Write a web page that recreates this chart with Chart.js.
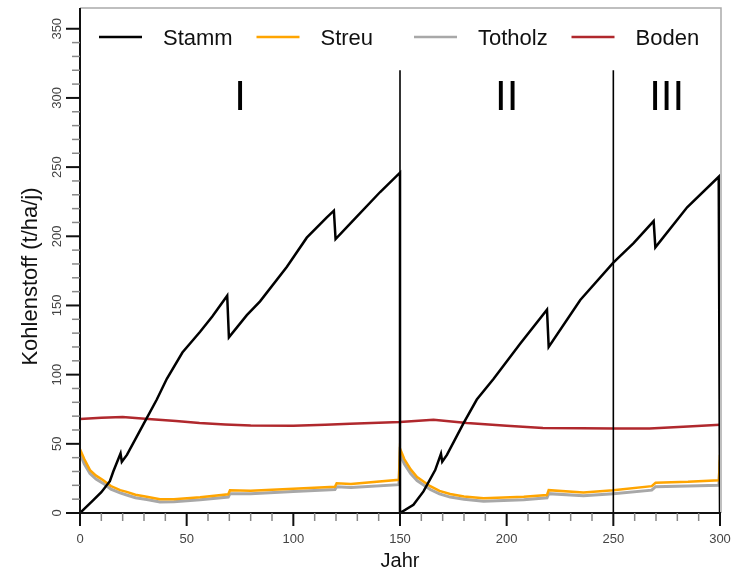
<!DOCTYPE html>
<html>
<head>
<meta charset="utf-8">
<script src="https://cdn.jsdelivr.net/npm/chart.js@4.4.1/dist/chart.umd.min.js"></script>
<style>
  html, body { margin: 0; padding: 0; background: #fff; }
  #wrap { width: 741px; height: 573px; position: relative; }
</style>
</head>
<body>
<div id="wrap"><canvas id="chart"></canvas></div>
<script>
// Kohlenstoffvorrat über 300 Jahre, drei Phasen (I, II, III).
// Werte; doppelte Jahre = senkrechter Sprung (Ernte).

const stammYears = [0, 6, 10, 14, 15.6, 19, 19.6, 22, 29.7, 36, 40.7, 48, 56.3, 62, 69, 69.8, 78.2, 84.4, 97, 106.3, 115.7, 119, 119.8, 128.2, 140.7, 150,
  150, 156.3, 161, 166.5, 169.2, 169.8, 172, 179.8, 186, 193.9, 206.4, 218.9, 219.7, 234.5, 250, 259.5, 268.9, 269.7, 284.6, 299.4, 300];
const stammValues = [0, 9, 15, 23, 30, 43, 37, 42, 64, 82, 97, 116, 131, 142, 157, 127, 143, 153, 178, 199, 213.6, 218.5, 198, 211.7, 232, 246,
  0, 6, 15.6, 31, 42.8, 37, 42, 65, 82, 97, 122.5, 147, 120, 154, 181, 195, 211, 192, 221, 243, 0];

const streuYears = [0, 2, 4.7, 7.5, 10.9, 14.5, 18.8, 21.9, 26, 31.3, 37.5, 44, 56.3, 69.5, 70.3, 80, 100, 119.5, 120.3, 127, 149.5,
  150, 152, 155, 158, 164.2, 168.5, 173.5, 180, 189.2, 208, 218.9, 219.7, 236, 250, 268, 269.8, 285, 299.5, 300];
const streuValues = [46, 39, 31, 27, 23.7, 19.5, 16.5, 15.3, 13.2, 11.7, 10, 10, 11.3, 13.5, 16.5, 16, 17.5, 19, 21.5, 21, 24,
  46.5, 39, 31.5, 26, 19.4, 16, 13.7, 12, 10.6, 11.7, 13, 16.5, 14.9, 16.5, 19.4, 21.8, 22.5, 23.7, 42];

const totholzYears = streuYears;
const totholzValues = [43, 35.5, 28.5, 24.5, 21.4, 17.3, 14.5, 13, 11, 9.7, 8, 8.2, 9.5, 11.5, 14, 14, 15.5, 17, 19, 18.5, 20.5,
  43, 35.5, 28.5, 23.5, 17, 13.8, 11.5, 10, 8.5, 9.5, 11, 14, 12.5, 14, 16.5, 19, 19.5, 20, 38];

const bodenYears = [0, 10, 20, 32, 45, 56, 68, 80, 100, 115, 126.6, 150, 165.7, 181.4, 200, 217, 235, 250, 267, 285, 300];
const bodenValues = [68, 68.8, 69.3, 68, 66.5, 65, 64, 63.3, 63, 63.7, 64.5, 65.7, 67.4, 65, 63, 61.4, 61.2, 61, 61, 62.5, 63.8];

const seriesLabels = ["Stamm", "Streu", "Totholz", "Boden"];
const seriesColors = ["#000000", "#FFA500", "#A8A8A8", "#B0282D"];
const seriesWidths = [2.5, 2.5, 3, 2.5];

const phaseBounds = [0, 150, 250, 300];
const phaseNames = ["I", "II", "III"];
const phaseLabelValue = 300;
const markerTop = 320;

const yTitle = "Kohlenstoff (t/ha/j)";
const FONT = "'Liberation Sans', Arial, sans-serif";

const pts = (xs, ys) => xs.map((x, i) => ({ x, y: ys[i] }));
const seriesData = [
  pts(stammYears, stammValues),
  pts(streuYears, streuValues),
  pts(totholzYears, totholzValues),
  pts(bodenYears, bodenValues),
];

// Achsen, Haupt-/Nebenstriche, Phasenlinien, römische Ziffern und Legende
const decor = {
  id: "decor",
  afterDatasetsDraw(chart) {
    const { ctx, chartArea: a, scales: { x, y } } = chart;
    ctx.save();

    // Phasengrenzen
    ctx.strokeStyle = "#000";
    ctx.lineWidth = 1.6;
    phaseBounds.slice(1, -1).forEach((b) => {
      const px = x.getPixelForValue(b);
      ctx.beginPath();
      ctx.moveTo(px, y.getPixelForValue(0));
      ctx.lineTo(px, y.getPixelForValue(markerTop));
      ctx.stroke();
    });

    // Rahmen oben/rechts grau
    ctx.strokeStyle = "#aaaaaa";
    ctx.lineWidth = 1.5;
    ctx.beginPath();
    ctx.moveTo(a.left, a.top);
    ctx.lineTo(a.right + 1, a.top);
    ctx.lineTo(a.right + 1, a.bottom);
    ctx.stroke();

    // Achsen schwarz
    ctx.strokeStyle = "#111";
    ctx.lineWidth = 2;
    ctx.beginPath();
    ctx.moveTo(a.left, a.top);
    ctx.lineTo(a.left, a.bottom);
    ctx.lineTo(a.right + 1, a.bottom);
    ctx.stroke();

    // Striche
    y.ticks.forEach((t) => {
      if (t.value > 350) return;
      const major = t.value % 50 === 0;
      const py = y.getPixelForValue(t.value);
      ctx.strokeStyle = major ? "#111" : "#888";
      ctx.lineWidth = major ? 2 : 1.5;
      ctx.beginPath();
      ctx.moveTo(a.left - (major ? 14 : 8), py);
      ctx.lineTo(a.left, py);
      ctx.stroke();
    });
    x.ticks.forEach((t) => {
      const major = t.value % 50 === 0;
      const px = x.getPixelForValue(t.value);
      ctx.strokeStyle = major ? "#111" : "#888";
      ctx.lineWidth = major ? 2 : 1.5;
      ctx.beginPath();
      ctx.moveTo(px, a.bottom);
      ctx.lineTo(px, a.bottom + (major ? 13 : 8));
      ctx.stroke();
    });

    // y-Beschriftung senkrecht
    ctx.fillStyle = "#444";
    ctx.font = "13px " + FONT;
    ctx.textAlign = "center";
    ctx.textBaseline = "middle";
    y.ticks.forEach((t) => {
      if (t.value % 50 !== 0 || t.value > 350) return;
      ctx.save();
      ctx.translate(a.left - 23, y.getPixelForValue(t.value));
      ctx.rotate(-Math.PI / 2);
      ctx.fillText(String(t.value), 0, 0);
      ctx.restore();
    });

    // y-Achsentitel
    ctx.save();
    ctx.fillStyle = "#111";
    ctx.font = "22px " + FONT;
    ctx.translate(31, (a.top + a.bottom) / 2 + 16);
    ctx.rotate(-Math.PI / 2);
    ctx.fillText(yTitle, 0, 0);
    ctx.restore();

    // Phasen I, II, III
    ctx.fillStyle = "#000";
    ctx.font = "42px " + FONT;
    phaseNames.forEach((n, i) => {
      const mid = (phaseBounds[i] + phaseBounds[i + 1]) / 2;
      ctx.fillText(n, x.getPixelForValue(mid), y.getPixelForValue(phaseLabelValue));
    });

    // Legende
    ctx.font = "22px " + FONT;
    ctx.textAlign = "left";
    chart.data.datasets.forEach((ds, i) => {
      const x0 = a.left + 19 + i * 157.5;
      ctx.strokeStyle = ds.borderColor;
      ctx.lineWidth = 2.5;
      ctx.beginPath();
      ctx.moveTo(x0, 37);
      ctx.lineTo(x0 + 43, 37);
      ctx.stroke();
      ctx.fillStyle = "#111";
      ctx.fillText(ds.label, x0 + 64, 39);
    });

    ctx.restore();
  },
};

new Chart(document.getElementById("chart"), {
  type: "line",
  data: {
    datasets: seriesLabels.map((label, i) => ({
      label,
      data: seriesData[i],
      borderColor: seriesColors[i],
      backgroundColor: seriesColors[i],
      borderWidth: seriesWidths[i],
      pointRadius: 0,
      tension: 0,
      fill: false,
    })),
  },
  options: {
    responsive: true,
    maintainAspectRatio: false,
    animation: false,
    layout: { padding: { top: 8, right: 21, left: 0, bottom: 0 } },
    plugins: { legend: { display: false }, tooltip: { enabled: false } },
    scales: {
      x: {
        type: "linear",
        min: 0,
        max: 300,
        grid: { display: false, drawTicks: false },
        border: { display: false },
        ticks: {
          stepSize: 10,
          autoSkip: false,
          maxRotation: 0,
          padding: 19,
          color: "#444",
          font: { family: FONT, size: 13 },
          callback: (v) => (v % 50 === 0 ? String(v) : ""),
        },
        title: { display: true, text: "Jahr", color: "#111", font: { family: FONT, size: 20 }, padding: { top: 0, bottom: 0 } },
        afterFit: (s) => { s.height = 60; s.paddingLeft = 0; s.paddingRight = 0; },
      },
      y: {
        type: "linear",
        min: 0,
        max: 365,
        grid: { display: false, drawTicks: false },
        border: { display: false },
        ticks: { stepSize: 10, display: false, includeBounds: false },
        title: { display: false },
        afterFit: (s) => { s.width = 80; },
      },
    },
  },
  plugins: [decor],
});
</script>
</body>
</html>
